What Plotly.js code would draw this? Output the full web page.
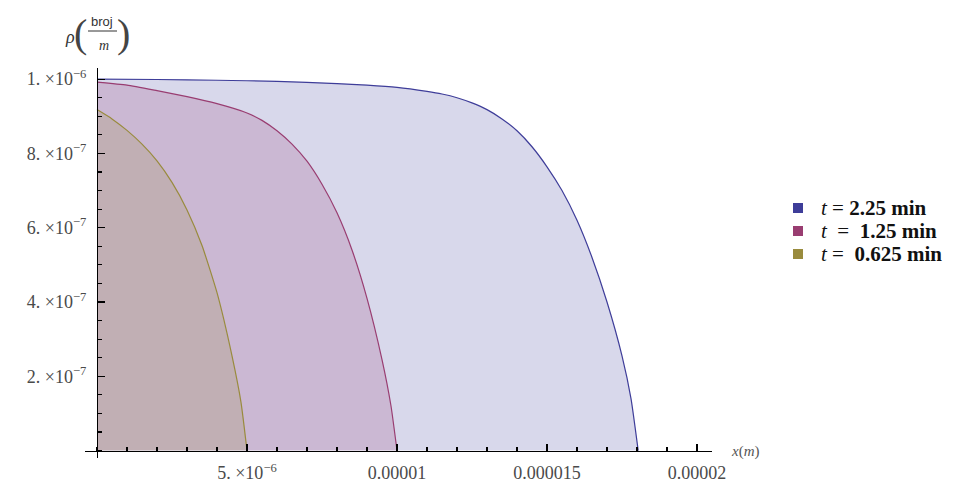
<!DOCTYPE html>
<html>
<head>
<meta charset="utf-8">
<script src="https://cdn.plot.ly/plotly-3.0.1.min.js"></script>
<style>html,body{margin:0;padding:0;background:#fff;}#chart{width:974px;height:485px;}</style>
</head>
<body>
<div id="chart"></div>
<script>
// ---- data (x in metres, rho in broj/m) ----
var seriesNames = [
  "<i>t</i> = <b>2.25\u00a0min</b>",
  "<i>t</i>\u00a0 = \u00a0<b>1.25\u00a0min</b>",
  "<i>t</i> = \u00a0<b>0.625\u00a0min</b>"
];

var xBlue = [0, 2e-6, 4e-6, 6e-6, 8e-6, 9e-6, 10e-6, 11e-6, 11.5e-6, 12e-6, 12.5e-6, 13e-6, 13.5e-6, 14e-6, 14.5e-6, 15e-6, 15.5e-6, 16e-6, 16.5e-6, 17e-6, 17.5e-6, 17.8e-6, 18.04e-6];
var yBlue = [1.0e-6, 0.999e-6, 0.997e-6, 0.994e-6, 0.988e-6, 0.984e-6, 0.978e-6, 0.967e-6, 0.960e-6, 0.950e-6, 0.936e-6, 0.918e-6, 0.893e-6, 0.861e-6, 0.818e-6, 0.764e-6, 0.700e-6, 0.620e-6, 0.520e-6, 0.400e-6, 0.255e-6, 0.140e-6, 0];

var xRed = [0, 1e-6, 2e-6, 3e-6, 4e-6, 5e-6, 5.5e-6, 6e-6, 6.5e-6, 7e-6, 7.5e-6, 8e-6, 8.5e-6, 9e-6, 9.5e-6, 9.8e-6, 10.0e-6];
var yRed = [0.992e-6, 0.984e-6, 0.969e-6, 0.953e-6, 0.934e-6, 0.909e-6, 0.889e-6, 0.861e-6, 0.825e-6, 0.779e-6, 0.717e-6, 0.640e-6, 0.540e-6, 0.410e-6, 0.245e-6, 0.120e-6, 0];

var xYellow = [0, 0.5e-6, 1e-6, 1.5e-6, 2e-6, 2.5e-6, 3e-6, 3.5e-6, 4e-6, 4.5e-6, 4.8e-6, 5.0e-6];
var yYellow = [0.918e-6, 0.893e-6, 0.862e-6, 0.825e-6, 0.780e-6, 0.722e-6, 0.648e-6, 0.552e-6, 0.425e-6, 0.255e-6, 0.130e-6, 0];

var xTickVals = [5e-6, 1e-5, 1.5e-5, 2e-5];
var xTickText = ["5. \u00d710<sup>\u22126</sup>", "0.00001", "0.000015", "0.00002"];
var yTickVals = [2e-7, 4e-7, 6e-7, 8e-7, 1e-6];
var yTickText = ["2. \u00d710<sup>\u22127</sup>", "4. \u00d710<sup>\u22127</sup>", "6. \u00d710<sup>\u22127</sup>", "8. \u00d710<sup>\u22127</sup>", "1. \u00d710<sup>\u22126</sup>"];

// ---- styles ----
var lineCols = ["rgb(62,61,153)", "rgb(153,61,113)", "rgb(153,139,61)"];
var fillCols = ["rgba(62,61,153,0.2)", "rgba(153,61,113,0.2)", "rgba(153,139,61,0.2)"];
var serif = "Liberation Serif, Times New Roman, serif";

// plot-area helpers (pixel -> paper)
var ML = 85, MR = 262, MT = 68, MB = 27, W = 974, H = 485;
var PW = W - ML - MR, PH = H - MT - MB;
function px(x) { return (x - ML) / PW; }
function py(y) { return (H - MB - y) / PH; }

var xs = [xBlue, xRed, xYellow];
var ys = [yBlue, yRed, yYellow];
var traces = [];
for (var i = 0; i < 3; i++) {
  traces.push({
    x: xs[i], y: ys[i], type: "scatter", mode: "lines",
    name: seriesNames[i],
    line: {color: lineCols[i], width: 1.2, shape: "spline", smoothing: 0.5},
    fill: "tozeroy", fillcolor: fillCols[i],
    showlegend: false, hoverinfo: "skip"
  });
}

var axisCommon = {
  showgrid: false, zeroline: false, showline: true,
  linecolor: "#000", linewidth: 1.2,
  ticks: "inside", ticklen: 7, tickwidth: 1.2, tickcolor: "#000",
  tickmode: "array",
  tickfont: {family: serif, size: 18, color: "#4a4a4a"},
  anchor: "free"
};

var annotations = [
  {x: px(745), y: py(451), text: "<i>x</i>(<i>m</i>)", font: {family: serif, size: 15, color: "#555"}},
  {x: px(70), y: py(37), text: "<i>ρ</i>", font: {family: serif, size: 18, color: "#333"}},
  {x: px(80), y: py(33), text: "(", font: {family: serif, size: 40, color: "#444"}},
  {x: px(123), y: py(33), text: ")", font: {family: serif, size: 40, color: "#444"}},
  {x: px(102), y: py(22), text: "broj", font: {family: "Liberation Sans, Arial, sans-serif", size: 13, color: "#333"}},
  {x: px(104), y: py(46), text: "<i>m</i>", font: {family: serif, size: 14, color: "#333"}}
];
var shapes = [
  {type: "line", xref: "paper", yref: "paper", x0: px(88), x1: px(117), y0: py(31), y1: py(31), line: {color: "#333", width: 1}}
];
// manual legend
var legRows = [208, 231, 254];
for (var k = 0; k < 3; k++) {
  shapes.push({type: "rect", xref: "paper", yref: "paper",
    x0: px(793), x1: px(803), y0: py(legRows[k] + 5), y1: py(legRows[k] - 5),
    fillcolor: lineCols[k], line: {width: 0}});
  annotations.push({x: px(820), y: py(legRows[k]), xanchor: "left", text: seriesNames[k],
    font: {family: serif, size: 21, color: "#111"}, borderpad: 0});
}
annotations.forEach(function (a) {
  a.xref = "paper"; a.yref = "paper"; a.showarrow = false;
  if (!a.xanchor) a.xanchor = "center";
  a.yanchor = "middle";
});

var layout = {
  width: W, height: H,
  margin: {l: ML, r: MR, t: MT, b: MB, pad: 0},
  paper_bgcolor: "#fff", plot_bgcolor: "rgba(0,0,0,0)",
  xaxis: Object.assign({}, axisCommon, {
    range: [-0.4e-6, 20.5e-6], position: 0.02 / 1.05,
    tickvals: xTickVals, ticktext: xTickText, ticklabelstandoff: 6,
    minor: {tickmode: "linear", tick0: 0, dtick: 1e-6, ticks: "inside", ticklen: 4, tickwidth: 1.2, tickcolor: "#000", showgrid: false}
  }),
  yaxis: Object.assign({}, axisCommon, {
    range: [-0.02e-6, 1.03e-6], position: 0.4 / 20.9,
    tickvals: yTickVals, ticktext: yTickText, ticklabelstandoff: 7,
    minor: {tickmode: "linear", tick0: 0, dtick: 5e-8, ticks: "inside", ticklen: 4, tickwidth: 1.2, tickcolor: "#000", showgrid: false}
  }),
  showlegend: false,
  annotations: annotations,
  shapes: shapes
};

Plotly.newPlot("chart", traces, layout, {displayModeBar: false, staticPlot: true});
</script>
</body>
</html>
